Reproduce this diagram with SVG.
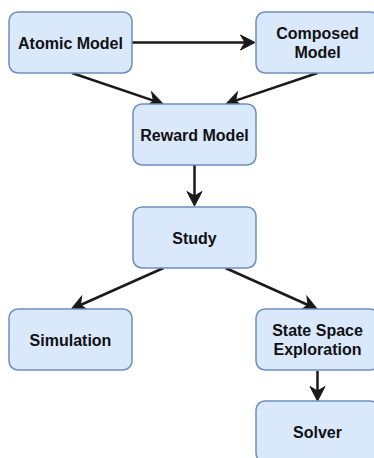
<svg xmlns="http://www.w3.org/2000/svg" width="374" height="458" viewBox="0 0 374 458">
  <style>
    .box { fill: #dae8fc; stroke: #6c8ebf; stroke-width: 1.5; }
    .lbl { font-family: "Liberation Sans", Arial, Helvetica, sans-serif; font-size: 16px; font-weight: bold; fill: #111; text-anchor: middle; }
    .edge { stroke: #1a1a1a; stroke-width: 2.5; fill: none; marker-end: url(#arrow); }
  </style>
  <defs>
    <marker id="arrow" markerUnits="userSpaceOnUse" markerWidth="20" markerHeight="20" refX="0" refY="0" viewBox="-6 -10 20 20" orient="auto" overflow="visible">
      <path d="M10,0 L-4.5,-7.5 L0,0 L-4.5,7.5 Z" fill="#1a1a1a" stroke="#1a1a1a" stroke-width="1" stroke-linejoin="miter"/>
    </marker>
  </defs>
  <rect width="374" height="458" fill="#ffffff"/>
  <g id="connectors">
    <line class="edge" x1="132" y1="42.5" x2="245" y2="42.5"/>
    <line class="edge" x1="72" y1="73" x2="153.5" y2="100.6"/>
    <line class="edge" x1="317.5" y1="73" x2="235.5" y2="100.6"/>
    <line class="edge" x1="194.5" y1="165" x2="194.5" y2="196"/>
    <line class="edge" x1="163.5" y1="268" x2="80.5" y2="305"/>
    <line class="edge" x1="225.5" y1="268" x2="308" y2="305"/>
    <line class="edge" x1="317.5" y1="371" x2="317.5" y2="391"/>
  </g>
  <g id="atomic">
    <rect class="box" x="9" y="12" width="123" height="61" rx="9"/>
    <text class="lbl" x="70.5" y="48.5">Atomic Model</text>
  </g>
  <g id="composed">
    <rect class="box" x="256" y="12" width="123" height="61" rx="9"/>
    <text class="lbl" x="317.5" y="39">Composed</text>
    <text class="lbl" x="317.5" y="58">Model</text>
  </g>
  <g id="reward">
    <rect class="box" x="133" y="104" width="123" height="61" rx="9"/>
    <text class="lbl" x="194.5" y="140.5">Reward Model</text>
  </g>
  <g id="study">
    <rect class="box" x="133" y="207" width="123" height="61" rx="9"/>
    <text class="lbl" x="194.5" y="243.5">Study</text>
  </g>
  <g id="simulation">
    <rect class="box" x="9" y="309" width="123" height="61" rx="9"/>
    <text class="lbl" x="70.5" y="345.5">Simulation</text>
  </g>
  <g id="statespace">
    <rect class="box" x="256" y="309" width="123" height="61" rx="9"/>
    <text class="lbl" x="317.5" y="336">State Space</text>
    <text class="lbl" x="317.5" y="355">Exploration</text>
  </g>
  <g id="solver">
    <rect class="box" x="256" y="401" width="123" height="61" rx="9"/>
    <text class="lbl" x="317.5" y="437.5">Solver</text>
  </g>
</svg>
